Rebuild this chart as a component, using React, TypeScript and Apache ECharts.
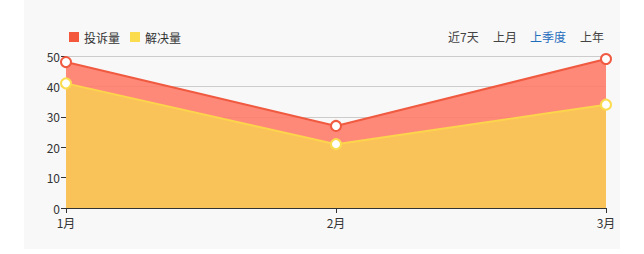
import React, { useEffect, useRef } from "react";
import * as echarts from "echarts";

const categories = ["1月", "2月", "3月"];
const complaints = [48, 27, 49];
const resolved = [41, 21, 34];
const seriesNames = ["投诉量", "解决量"];
const legendColors = ["#f4583c", "#fbdc4e"];
const periodButtons = ["近7天", "上月", "上季度", "上年"];
const activeButton = "上季度";

const FONT = "'Noto Sans CJK SC', 'Microsoft YaHei', sans-serif";

export default function App() {
  const ref = useRef<HTMLDivElement>(null);
  useEffect(() => {
    if (!ref.current) return;
    const chart = echarts.init(ref.current, undefined, { renderer: "svg" });
    const btnX = [424, 469, 506, 556];
    const legendX = [45, 106];
    chart.setOption({
      animation: false,
      backgroundColor: "#f8f8f8",
      textStyle: { fontFamily: FONT },
      legend: seriesNames.map((n, i) => ({
        data: [n],
        left: legendX[i],
        top: 31,
        padding: 0,
        icon: "rect",
        itemWidth: 10,
        itemHeight: 10,
        itemGap: 0,
        itemStyle: { color: legendColors[i], borderWidth: 0 },
        textStyle: { color: "#333", fontSize: 12, fontFamily: FONT },
      })),
      graphic: periodButtons.map((t, i) => ({
        type: "text",
        left: btnX[i],
        top: 30,
        style: {
          text: t,
          fill: t === activeButton ? "#1f6dbd" : "#444",
          fontSize: 12,
          fontFamily: FONT,
        },
      })),
      grid: { left: 42, right: 14, top: 56, bottom: 41 },
      xAxis: {
        type: "category",
        data: categories,
        boundaryGap: false,
        axisLine: { lineStyle: { color: "#333" } },
        axisTick: { show: true, alignWithLabel: true, lineStyle: { color: "#333" } },
        axisLabel: { color: "#333", fontSize: 12, margin: 8, lineHeight: 12 },
        splitLine: { show: false },
      },
      yAxis: {
        type: "value",
        min: 0,
        max: 50,
        interval: 10,
        axisLine: { show: false },
        axisTick: { show: true, length: 5, lineStyle: { color: "#333" } },
        axisLabel: { color: "#333", fontSize: 12, margin: 6, lineHeight: 12 },
        splitLine: { lineStyle: { color: "#cccccc" } },
      },
      series: [
        {
          name: seriesNames[0],
          type: "line",
          data: complaints,
          symbol: "emptyCircle",
          symbolSize: 10,
          itemStyle: { color: "#f05a40", borderColor: "#ee7d6e", borderWidth: 1.5 },
          lineStyle: { color: "#f05a40", width: 2 },
          areaStyle: { color: "rgb(255,124,106)", opacity: 0.9 },
        },
        {
          name: seriesNames[1],
          type: "line",
          data: resolved,
          symbol: "emptyCircle",
          symbolSize: 10,
          itemStyle: { color: "#fbdc4e", borderColor: "#fce06a", borderWidth: 1.5 },
          lineStyle: { color: "#fcd54c", width: 2 },
          areaStyle: { color: "rgb(250,200,88)", opacity: 0.92 },
        },
      ],
    });
    return () => chart.dispose();
  }, []);
  return (
    <div
      ref={ref}
      style={{ position: "fixed", left: 24, top: 0, width: 596, height: 249 }}
    />
  );
}
